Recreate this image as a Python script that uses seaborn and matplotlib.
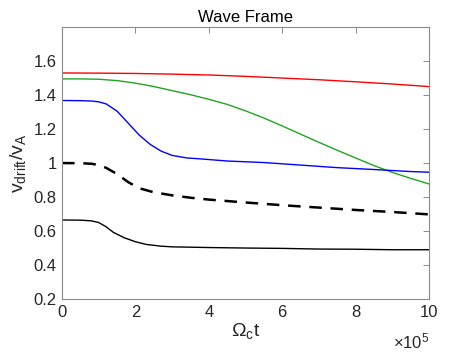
import numpy as np
import pandas as pd
import matplotlib
matplotlib.use("Agg")
import matplotlib.pyplot as plt
import seaborn as sns

# time axis in units of 1e5
t_red = [0, 1, 2, 3, 4, 5, 6, 7, 8, 9, 10]
v_red = [1.530, 1.529, 1.527, 1.523, 1.518, 1.510, 1.500, 1.490, 1.478, 1.465, 1.450]

t_green = [0, 0.5, 1, 1.5, 2, 2.5, 3, 3.5, 4, 4.5, 5, 5.5, 6, 6.5, 7, 7.5, 8, 8.5, 9, 9.5, 10]
v_green = [1.495, 1.495, 1.493, 1.485, 1.470, 1.450, 1.426, 1.402, 1.375, 1.345, 1.307, 1.265,
           1.218, 1.170, 1.122, 1.075, 1.030, 0.985, 0.945, 0.910, 0.877]

t_blue = [0, 0.5, 0.8, 1.0, 1.2, 1.5, 1.8, 2.1, 2.4, 2.7, 3.0, 3.4, 3.8, 4.5, 5.5, 6.5, 7.5, 8.5, 9.5, 10]
v_blue = [1.368, 1.367, 1.365, 1.360, 1.348, 1.305, 1.235, 1.165, 1.110, 1.070, 1.045, 1.030,
          1.024, 1.012, 1.003, 0.988, 0.973, 0.962, 0.950, 0.946]

t_dash = [0, 0.5, 0.8, 1.0, 1.2, 1.5, 1.8, 2.1, 2.5, 3.0, 3.5, 4, 5, 6, 7, 8, 9, 10]
v_dash = [1.000, 0.999, 0.996, 0.988, 0.972, 0.935, 0.888, 0.852, 0.828, 0.810, 0.796, 0.785,
          0.768, 0.752, 0.738, 0.724, 0.712, 0.698]

t_black = [0, 0.5, 0.8, 1.0, 1.2, 1.4, 1.7, 2.0, 2.3, 2.7, 3.0, 3.5, 4, 5, 6, 7, 8, 9, 10]
v_black = [0.665, 0.664, 0.660, 0.650, 0.625, 0.592, 0.560, 0.537, 0.521, 0.511, 0.507, 0.505,
           0.503, 0.500, 0.498, 0.494, 0.493, 0.490, 0.490]

sns.set_style("white")
plt.rcParams['font.family'] = ['Liberation Sans', 'DejaVu Sans']

fig = plt.figure(figsize=(4.74, 3.56), dpi=100)
ax = fig.add_axes([0.131, 0.160, 0.774, 0.764])

sns.lineplot(x=t_red, y=v_red, color="#ff0000", linewidth=1.0, ax=ax)
sns.lineplot(x=t_green, y=v_green, color="#1fa51f", linewidth=1.0, ax=ax)
sns.lineplot(x=t_blue, y=v_blue, color="#0000ff", linewidth=1.0, ax=ax)
sns.lineplot(x=t_dash, y=v_dash, color="black", linewidth=1.8, ax=ax)
ax.lines[-1].set_dashes([5, 3.5])
sns.lineplot(x=t_black, y=v_black, color="black", linewidth=1.0, ax=ax)

ax.set_xlim(0, 10)
ax.set_ylim(0.2, 1.8)
ax.set_xticks([0, 2, 4, 6, 8, 10])
ax.set_yticks([0.2, 0.4, 0.6, 0.8, 1.0, 1.2, 1.4, 1.6])
ax.set_yticklabels(["0.2", "0.4", "0.6", "0.8", "1", "1.2", "1.4", "1.6"])

for s in ax.spines.values():
    s.set_color("#8a8a8a")
    s.set_linewidth(0.8)
ax.tick_params(direction="in", length=4, width=0.7, color="#8a8a8a",
               top=True, right=True, labelsize=12, labelcolor="#262626", pad=4)

ax.set_title("Wave Frame", fontsize=12, color="black", pad=4)
ax.set_xlabel(r"$\mathregular{\Omega_c t}$", fontsize=14, color="#262626", labelpad=1)
ax.set_ylabel(r"$\mathregular{v_{drift}/v_A}$", fontsize=14, color="#262626", labelpad=4)
ax.text(1.0, -0.183, r"$\mathregular{\times 10^5}$", transform=ax.transAxes,
        ha="right", va="baseline", fontsize=12, color="#262626")

fig.savefig("out.png", dpi=100)
